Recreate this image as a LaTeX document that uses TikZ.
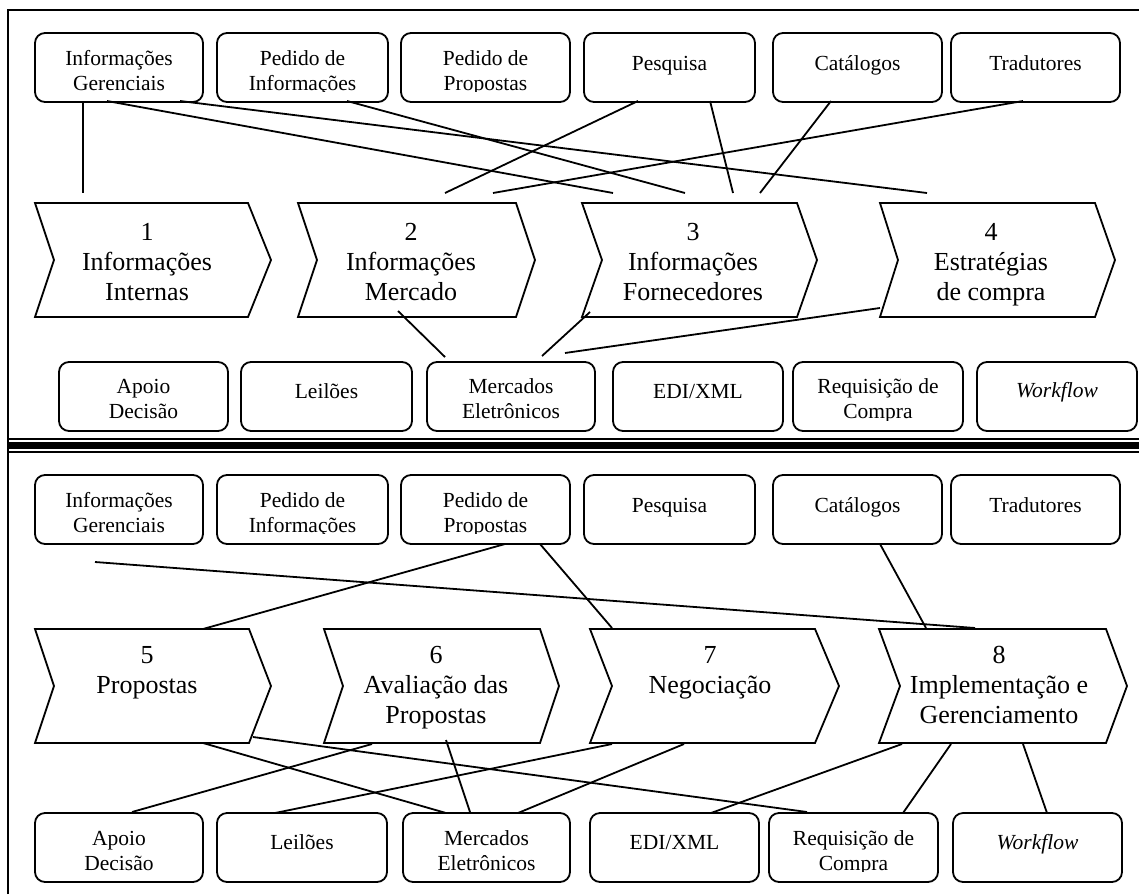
\documentclass[tikz,border=0pt]{standalone}
\usepackage{fontspec}
\setmainfont{Liberation Serif}
\usetikzlibrary{calc}
\tikzset{
  boxst/.style={draw, line width=1.8pt, rounded corners=10pt, inner sep=0pt, minimum height=69pt},
  btext/.style={anchor=base, inner sep=0pt, font=\fontsize{21.5}{25}\selectfont},
  ctext/.style={anchor=base, inner sep=0pt, font=\fontsize{26}{30}\selectfont},
  conn/.style={line width=1.8pt},
  chevline/.style={line width=1.8pt, line join=miter},
  frameline/.style={line width=2.5pt},
}
\newcommand\ml[1]{\parbox[t]{300pt}{\centering #1}}
% name, x1, x2, top, baseline, text
\newcommand\rbox[6]{%
  \node[boxst, minimum width={#3-#2}] (#1) at ({(#2+#3)/2},{#4+34.5}) {};
  \begin{scope}\clip (#2,#4) rectangle (#3,{#4+58});
  \node[btext] (#1t) at ({(#2+#3)/2},#5) {\ml{#6}};
  \end{scope}}
% name, left, top, topright, tip, notch, textx, baseline, text
\newcommand\chevron[9]{%
  \draw[chevline] (#2,#3) -- (#4,#3) -- (#5,{#3+57}) -- (#4,{#3+114}) -- (#2,{#3+114}) -- (#6,{#3+57}) -- cycle;
  \node[ctext] (#1) at (#7,#8) {\ml{#9}};}
% name, start, end
\newcommand\link[3]{%
  \coordinate (#1a) at (#2); \coordinate (#1b) at (#3);
  \draw[conn] (#1a) -- (#1b);}
\begin{document}
\begin{tikzpicture}[x=1pt,y=-1pt]
\useasboundingbox (0,0) rectangle (1139,894);
% frame
\draw[frameline] (8,894) -- (8,10) -- (1139,10);
\fill (8,437.5) rectangle (1139,439.5);
\fill (8,442) rectangle (1139,448.5);
\fill (8,450.5) rectangle (1139,452.5);

% ---------- top section ----------
\rbox{t1}{35}{203}{33}{65}{Informações\\Gerenciais}
\rbox{t2}{217}{388}{33}{65}{Pedido de\\Informações}
\rbox{t3}{401}{570}{33}{65}{Pedido de\\Propostas}
\rbox{t4}{584}{755}{33}{70}{Pesquisa}
\rbox{t5}{773}{942}{33}{70}{Catálogos}
\rbox{t6}{951}{1120}{33}{70}{Tradutores}

\chevron{c1}{35}{203}{248}{271}{54}{147}{240}{1\\Informações\\Internas}
\chevron{c2}{298}{203}{516}{535}{317}{411}{240}{2\\Informações\\Mercado}
\chevron{c3}{582}{203}{797}{817}{602}{693}{240}{3\\Informações\\Fornecedores}
\chevron{c4}{880}{203}{1095}{1115}{898}{991}{240}{4\\Estratégias\\de compra}

\rbox{b1}{59}{228}{362}{393}{Apoio\\Decisão}
\rbox{b2}{241}{412}{362}{398}{Leilões}
\rbox{b3}{427}{595}{362}{393}{Mercados\\Eletrônicos}
\rbox{b4}{613}{783}{362}{398}{EDI/XML}
\rbox{b5}{793}{963}{362}{393}{Requisição de\\Compra}
\rbox{b6}{977}{1137}{362}{397}{\itshape Workflow}

\link{L1}{83,101}{83,193}
\link{L2}{107,101}{613,193}
\link{L3}{180,101}{927,193}
\link{L4}{347,101}{685,193}
\link{L5}{638,101}{445,193}
\link{L6}{710,101}{733,193}
\link{L7}{831,101}{760,193}
\link{L8}{1023,101}{493,193}
\link{L9}{398,311}{445,357}
\link{L10}{590,312}{542,356}
\link{L11}{880,308}{565,353}

% ---------- bottom section ----------
\rbox{u1}{35}{203}{475}{507}{Informações\\Gerenciais}
\rbox{u2}{217}{388}{475}{507}{Pedido de\\Informações}
\rbox{u3}{401}{570}{475}{507}{Pedido de\\Propostas}
\rbox{u4}{584}{755}{475}{512}{Pesquisa}
\rbox{u5}{773}{942}{475}{512}{Catálogos}
\rbox{u6}{951}{1120}{475}{512}{Tradutores}

\chevron{c5}{35}{629}{249}{271}{54}{147}{663}{5\\Propostas}
\chevron{c6}{324}{629}{540}{559}{343}{436}{663}{6\\Avaliação das\\Propostas}
\chevron{c7}{590}{629}{815}{839}{612}{710}{663}{7\\Negociação}
\chevron{c8}{879}{629}{1106}{1127}{900}{999}{663}{8\\Implementação e\\Gerenciamento}

\rbox{d1}{35}{203}{813}{845}{Apoio\\Decisão}
\rbox{d2}{217}{387}{813}{849}{Leilões}
\rbox{d3}{403}{570}{813}{845}{Mercados\\Eletrônicos}
\rbox{d4}{590}{759}{813}{849}{EDI/XML}
\rbox{d5}{769}{938}{813}{845}{Requisição de\\Compra}
\rbox{d6}{953}{1122}{813}{849}{\itshape Workflow}

\link{M1}{95,562}{975,628}
\link{M2}{505,544}{203,629}
\link{M3}{540,544}{612,628}
\link{M4}{880,544}{926,628}
\link{M5}{203,743}{446,813}
\link{M6}{253,737}{807,812}
\link{M7}{372,744}{132,812}
\link{M8}{446,740}{470,812}
\link{M9}{612,744}{275,813}
\link{M10}{684,744}{518,813}
\link{M11}{902,744}{711,813}
\link{M12}{951,744}{903,813}
\link{M13}{1023,744}{1047,813}
\end{tikzpicture}
\end{document}
